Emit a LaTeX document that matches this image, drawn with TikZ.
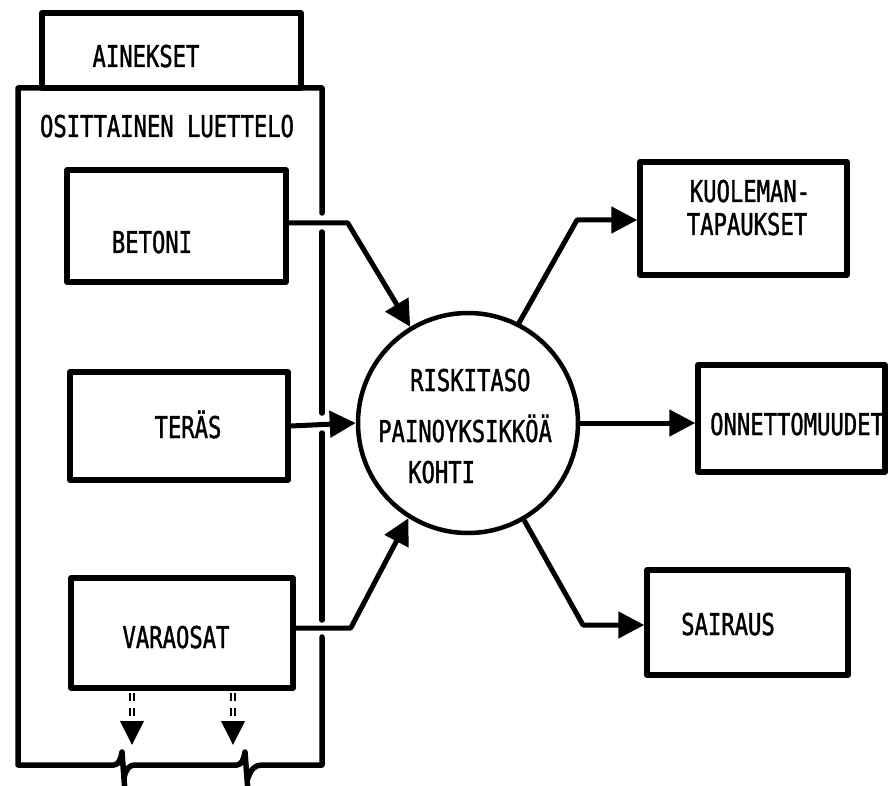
\documentclass[tikz,border=0pt]{standalone}
\usepackage{fontspec}
\newfontfamily\typew[FakeStretch=0.74,FakeBold=1.2]{DejaVu Sans Mono}
\usetikzlibrary{arrows.meta}
\begin{document}
\begin{tikzpicture}[x=1pt,y=-1pt,
  box/.style={draw, line width=5.5pt, rectangle, inner sep=0pt, line join=round},
  frame/.style={line width=5.5pt, line join=round, line cap=round},
  lbl/.style={font=\typew\fontsize{30}{34}\selectfont, inner sep=0pt},
  conn/.style={line width=5pt, line join=round},
  tip/.style={-{Triangle[length=26pt,width=26pt]}},
  dashpair/.style={double, line width=2pt, double distance=2pt, dash pattern=on 8pt off 7pt},
  drop/.style={line width=4pt, -{Triangle[length=24pt,width=23pt]}}
]
\useasboundingbox (0,0) rectangle (888,786);

% materials list: header tab and boxes
\node[box, minimum width=259pt, minimum height=75pt] (ainekset) at (171.5,50.5) {};
\node[box, minimum width=219pt, minimum height=112pt] (betoni) at (176.5,226) {};
\node[box, minimum width=218pt, minimum height=108pt] (teras) at (179,426) {};
\node[box, minimum width=222pt, minimum height=110pt] (varaosat) at (182,633) {};

% list frame, open where the connectors leave it and broken at the bottom
\draw[frame] (322,213) -- (322,88) -- (18,88) -- (18,765) -- (114,765)
  .. controls (119,765) and (121,758) .. (122,752) -- (125,792);
\draw[frame] (124,778) .. controls (126,769) and (129,765) .. (135,765) -- (237,765)
  .. controls (242,765) and (244,758) .. (245,752) -- (248,792);
\draw[frame] (248,778) .. controls (251,769) and (255,765) .. (262,765) -- (322,765) -- (322,637);
\draw[frame] (322,620) -- (322,433);
\draw[frame] (322,413) -- (322,232);

% central risk level
\node[draw, circle, line width=4.5pt, minimum size=220pt, inner sep=0pt] (risk) at (468,423) {};

% consequences
\node[box, minimum width=207pt, minimum height=113pt] (kuol) at (743.5,218.5) {};
\node[box, minimum width=187pt, minimum height=107pt] (onn) at (791.5,418.5) {};
\node[box, minimum width=201pt, minimum height=105pt] (sair) at (747.5,622.5) {};

% labels
\node[lbl, anchor=base] (tainekset) at (146,67) {AINEKSET};
\node[lbl, anchor=base] (tluettelo) at (167,137) {OSITTAINEN LUETTELO};
\node[lbl, anchor=base] (tbetoni) at (152,253) {BETONI};
\node[lbl, anchor=base] (tteras) at (188,438) {TERÄS};
\node[lbl, anchor=base] (tvaraosat) at (176,648) {VARAOSAT};
\node[lbl, anchor=base west] (trisk1) at (410,391) {RISKITASO};
\node[lbl, anchor=base west] (trisk2) at (378,442) {PAINOYKSIKKÖÄ};
\node[lbl, anchor=base west] (trisk3) at (408,483) {KOHTI};
\node[lbl, anchor=base] (tkuol1) at (750,202) {KUOLEMAN-};
\node[lbl, anchor=base] (tkuol2) at (747,235) {TAPAUKSET};
\node[lbl, anchor=base west] (tonn) at (710,435) {ONNETTOMUUDET};
\node[lbl, anchor=base] (tsair) at (728,635) {SAIRAUS};

% bend points
\coordinate (kb) at (577,220);
\coordinate (sb) at (583,625);

% inputs to the risk level
\draw[conn, tip] ([yshift=3pt]betoni.east) -- ++(59,0) -- (risk.121);
\draw[conn, tip] (teras.east) -- (risk.west);
\draw[conn, tip] ([yshift=5pt]varaosat.east) -- ++(55,0) -- (risk.238.5);

% outputs
\draw[conn, tip] (risk.63) -- (kb) -- (kuol.west |- kb);
\draw[conn, tip] (risk.east) -- (onn.west |- risk.east);
\draw[conn, tip] (risk.300) -- (sb) -- (sair.west |- sb);

% continuation of the list
\coordinate (d1) at (132,745);
\coordinate (d2) at (233,745);
\draw[dashpair] ([xshift=-50pt,yshift=-2pt]varaosat.south) -- ++(0,28);
\draw[drop] ([xshift=-50pt,yshift=-30pt]varaosat.south) -- (d1);
\draw[dashpair] ([xshift=51pt,yshift=-2pt]varaosat.south) -- ++(0,28);
\draw[drop] ([xshift=51pt,yshift=-30pt]varaosat.south) -- (d2);
\end{tikzpicture}
\end{document}
